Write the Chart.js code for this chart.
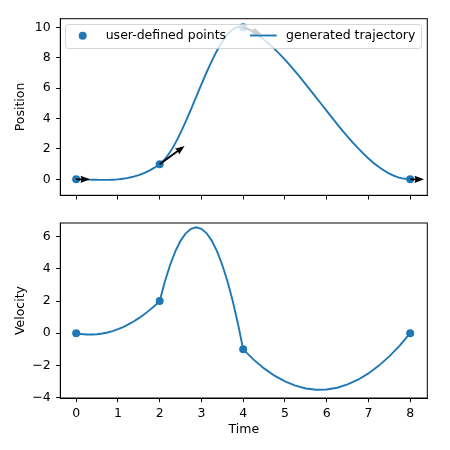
<!DOCTYPE html>
<meta charset="utf-8">
<head>
  <title>Trajectory</title>
  <style>
    html, body { margin: 0; padding: 0; background: #fff; }
    .wrap { position: relative; width: 450px; height: 450px; }
    #posChart { position: absolute; left: 0; top: 0; }
    #velChart { position: absolute; left: 0; top: 210px; }
  </style>
</head>
<body>
<div class="wrap">
  <canvas id="posChart" width="450" height="210"></canvas>
  <canvas id="velChart" width="450" height="240"></canvas>
</div>

<script src="https://cdn.jsdelivr.net/npm/chart.js@4/dist/chart.umd.min.js"></script>
<script>
// user-defined points
var keyTimes = [0, 2, 4, 8];
var keyPositions = [0, 1, 10, 0];
var keyVelocities = [0, 2, -1, 0];

// generated trajectory
var timeFine = [0, 0.125, 0.25, 0.375, 0.5, 0.625, 0.75, 0.875, 1, 1.125, 1.25, 1.375, 1.5, 1.625, 1.75, 1.875, 2,
  2.125, 2.25, 2.375, 2.5, 2.625, 2.75, 2.875, 3, 3.125, 3.25, 3.375, 3.5, 3.625, 3.75, 3.875, 4,
  4.25, 4.5, 4.75, 5, 5.25, 5.5, 5.75, 6, 6.25, 6.5, 6.75, 7, 7.25, 7.5, 7.75, 8];
var positionFine = [0, -0.0034, -0.0117, -0.022, -0.0313, -0.0366, -0.0352, -0.0239, 0, 0.0396, 0.0977, 0.1772, 0.2813, 0.4126, 0.5742, 0.769, 1,
  1.3281, 1.7969, 2.3828, 3.0625, 3.8125, 4.6094, 5.4297, 6.25, 7.0469, 7.7969, 8.4766, 9.0625, 9.5313, 9.8594, 10.0234, 10,
  9.668, 9.1875, 8.582, 7.875, 7.0898, 6.25, 5.3789, 4.5, 3.6367, 2.8125, 2.0508, 1.375, 0.8086, 0.375, 0.0977, 0];
var velocityFine = [0, -0.0508, -0.0781, -0.082, -0.0625, -0.0195, 0.0469, 0.1367, 0.25, 0.3867, 0.5469, 0.7305, 0.9375, 1.168, 1.4219, 1.6992, 2,
  3.2188, 4.25, 5.0938, 5.75, 6.2188, 6.5, 6.5938, 6.5, 6.2188, 5.75, 5.0938, 4.25, 3.2188, 2, 0.5938, -1,
  -1.6406, -2.1875, -2.6406, -3.0, -3.2656, -3.4375, -3.5156, -3.5, -3.3906, -3.1875, -2.8906, -2.5, -2.0156, -1.4375, -0.7656, 0];

var blue = '#1f77b4';
var fontPx = 12.5;
Chart.defaults.font.family = 'DejaVu Sans';
Chart.defaults.font.size = fontPx;
Chart.defaults.color = '#000';

function pts(xs, ys) {
  return xs.map(function(x, i) { return {x: x, y: ys[i]}; });
}

// box round the plot area, like matplotlib spines
var framePlugin = {
  id: 'frame',
  afterDraw: function(chart) {
    var a = chart.chartArea, ctx = chart.ctx;
    ctx.save();
    ctx.strokeStyle = '#000';
    ctx.lineWidth = 1;
    ctx.strokeRect(a.left, a.top, a.right - a.left, a.bottom - a.top);
    ctx.restore();
  }
};

function drawArrow(ctx, x0, y0, dx, dy, len) {
  var w = 1.9, hl = 9.5, hal = 8.5, hw = 7.2;
  ctx.save();
  ctx.translate(x0, y0);
  ctx.rotate(Math.atan2(dy, dx));
  ctx.beginPath();
  ctx.moveTo(0, -w / 2);
  ctx.lineTo(len - hal, -w / 2);
  ctx.lineTo(len - hl, -hw / 2);
  ctx.lineTo(len, 0);
  ctx.lineTo(len - hl, hw / 2);
  ctx.lineTo(len - hal, w / 2);
  ctx.lineTo(0, w / 2);
  ctx.closePath();
  ctx.fill();
  ctx.restore();
}

// velocity arrows (quiver) and the legend box on the top panel
var quiverPlugin = {
  id: 'quiver',
  afterDatasetsDraw: function(chart) {
    var ctx = chart.ctx, xs = chart.scales.x, ys = chart.scales.y;
    ctx.save();
    ctx.fillStyle = '#000';
    for (var i = 0; i < keyTimes.length; i++) {
      var px = xs.getPixelForValue(keyTimes[i]);
      var py = ys.getPixelForValue(keyPositions[i]);
      var dx = xs.getPixelForValue(keyTimes[i] + 1) - px;
      var dy = ys.getPixelForValue(keyPositions[i] + keyVelocities[i]) - py;
      var len = 13.8 * Math.sqrt(1 + keyVelocities[i] * keyVelocities[i]);
      drawArrow(ctx, px, py, dx, dy, len);
    }
    ctx.restore();

    // legend
    var ds = chart.data.datasets;
    ctx.save();
    ctx.beginPath();
    ctx.roundRect(65.5, 24.5, 356, 24, 3);
    ctx.fillStyle = 'rgba(255,255,255,0.8)';
    ctx.fill();
    ctx.strokeStyle = 'rgba(204,204,204,0.8)';
    ctx.lineWidth = 1;
    ctx.stroke();
    ctx.fillStyle = blue;
    ctx.beginPath();
    ctx.arc(82.7, 35.8, 4, 0, Math.PI * 2);
    ctx.fill();
    ctx.strokeStyle = blue;
    ctx.lineWidth = 1.9;
    ctx.beginPath();
    ctx.moveTo(250, 35.5);
    ctx.lineTo(276.7, 35.5);
    ctx.stroke();
    ctx.fillStyle = '#000';
    ctx.font = fontPx + 'px "DejaVu Sans"';
    ctx.textBaseline = 'middle';
    ctx.fillText(ds[0].label, 105.7, 36);
    ctx.fillText(ds[1].label, 286, 36);
    ctx.restore();
  }
};

function minusSign(v) {
  return String(v).replace('-', '\u2212');
}

function xAxis(showLabels, height) {
  return {
    type: 'linear',
    min: -0.38, max: 8.41,
    afterFit: function(s) { s.height = height; },
    ticks: { stepSize: 1, includeBounds: false, display: showLabels, padding: 4, maxRotation: 0 },
    grid: { drawOnChartArea: false, drawTicks: true, tickLength: 4.2, tickColor: '#000', tickWidth: 1 },
    border: { display: true, color: '#000', width: 1 },
    title: showLabels ? { display: true, text: 'Time', padding: { top: 0, bottom: 12.5 } } : { display: false }
  };
}

function yAxis(min, max, label) {
  return {
    type: 'linear',
    min: min, max: max,
    afterFit: function(s) { s.width = 60.3; },
    ticks: { stepSize: 2, includeBounds: false, padding: 5.5, callback: minusSign },
    grid: { drawOnChartArea: false, drawTicks: true, tickLength: 4.2, tickColor: '#000', tickWidth: 1 },
    border: { display: true, color: '#000', width: 1 },
    title: { display: true, text: label, padding: { top: 13.5, bottom: 0 } }
  };
}

var common = {
  responsive: false,
  animation: false,
  events: [],
  plugins: { legend: { display: false }, tooltip: { enabled: false } }
};

new Chart('posChart', {
  type: 'scatter',
  data: {
    datasets: [
      { label: 'user-defined points', data: pts(keyTimes, keyPositions),
        pointRadius: 4, pointBackgroundColor: blue, pointBorderWidth: 0, showLine: false },
      { label: 'generated trajectory', data: pts(timeFine, positionFine),
        showLine: true, pointRadius: 0, borderColor: blue, borderWidth: 1.9,
        cubicInterpolationMode: 'monotone' }
    ]
  },
  options: Object.assign({}, common, {
    layout: { padding: { top: 18.7, right: 22.7, left: 0, bottom: 0 } },
    scales: { x: xAxis(false, 14.7), y: yAxis(-1.05, 10.57, 'Position') }
  }),
  plugins: [quiverPlugin, framePlugin]
});

new Chart('velChart', {
  type: 'scatter',
  data: {
    datasets: [
      { label: 'user-defined points', data: pts(keyTimes, keyVelocities),
        pointRadius: 4, pointBackgroundColor: blue, pointBorderWidth: 0, showLine: false },
      { label: 'generated trajectory', data: pts(timeFine, velocityFine),
        showLine: true, pointRadius: 0, borderColor: blue, borderWidth: 1.9, tension: 0 }
    ]
  },
  options: Object.assign({}, common, {
    layout: { padding: { top: 11.3, right: 22.7, left: 0, bottom: 0 } },
    scales: { x: xAxis(true, 52), y: yAxis(-4.03, 6.86, 'Velocity') }
  }),
  plugins: [framePlugin]
});
</script>
</body>
